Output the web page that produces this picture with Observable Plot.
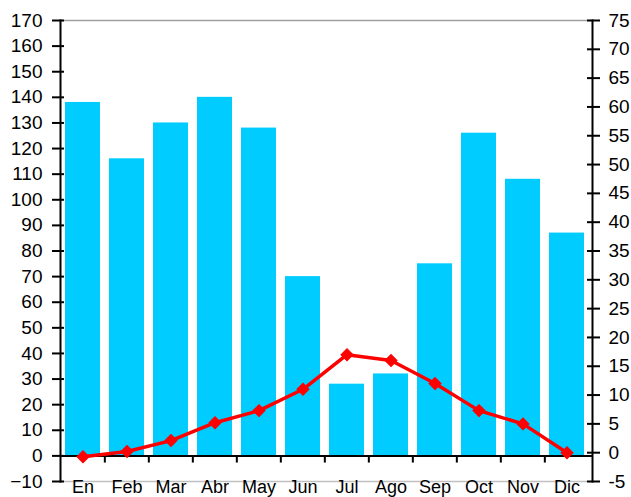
<!DOCTYPE html>
<html>
<head>
<meta charset="utf-8">
<script src="https://cdn.jsdelivr.net/npm/d3@7"></script>
<script src="https://cdn.jsdelivr.net/npm/@observablehq/plot@0.6"></script>
<style>
  html, body { margin: 0; padding: 0; background: #fff; }
</style>
</head>
<body>
<div id="chart"></div>
<script>
const months = ["En","Feb","Mar","Abr","May","Jun","Jul","Ago","Sep","Oct","Nov","Dic"];
const precip = [138, 116, 130, 140, 128, 70, 28, 32, 75, 126, 108, 87];
const temp = [-0.7, 0.2, 2.1, 5.2, 7.3, 11, 17, 16, 12, 7.3, 5, 0];
const precipTicks = [-10, 0, 10, 20, 30, 40, 50, 60, 70, 80, 90, 100, 110, 120, 130, 140, 150, 160, 170];
const tempTicks = [-5, 0, 5, 10, 15, 20, 25, 30, 35, 40, 45, 50, 55, 60, 65, 70, 75];

const W = 631, H = 497;
const mL = 60, mR = 39, mT = 20, mB = 16;
const precipDomain = [-10, 170];
const tempDomain = [-5, 75];
// map temperature (right axis) onto precipitation (left axis) scale
const toLeft = t => precipDomain[0] + (t - tempDomain[0]) * (precipDomain[1] - precipDomain[0]) / (tempDomain[1] - tempDomain[0]);
const fromLeft = v => tempDomain[0] + (v - precipDomain[0]) * (tempDomain[1] - tempDomain[0]) / (precipDomain[1] - precipDomain[0]);

const step = (W - mL - mR) / months.length;
const rows = months.map((m, i) => ({month: m, p: precip[i], t: temp[i]}));

const chart = Plot.plot({
  width: W,
  height: H,
  marginLeft: mL,
  marginRight: mR,
  marginTop: mT,
  marginBottom: mB,
  style: {fontFamily: "'Liberation Sans', Arial, sans-serif", fontSize: "19px", color: "#000", background: "#fff", overflow: "visible"},
  x: {domain: months, paddingInner: 0.21, paddingOuter: 0.1, align: 0.35, label: null},
  y: {domain: precipDomain, label: null},
  marks: [
    Plot.barY(rows, {x: "month", y: "p", fill: "#00CCFF"}),
    Plot.frame({anchor: "top", stroke: "#a0a0a0", strokeWidth: 1.5}),
    Plot.frame({anchor: "bottom", stroke: "#c0c0c0", strokeWidth: 1.5}),
    Plot.ruleY([0], {stroke: "#000", strokeWidth: 2}),
    Plot.ruleX(months.slice(1), {x: d => d, y1: 0, y2: -2.8, dx: -step / 2, stroke: "#000", strokeWidth: 2}),
    // left axis
    Plot.axisY({anchor: "left", ticks: precipTicks, tickSize: 0, tickPadding: 18, label: null}),
    Plot.axisY({anchor: "left", ticks: precipTicks, tickSize: 12, dx: 4, text: null, strokeWidth: 2, label: null}),
    // right axis
    Plot.axisY({anchor: "right", ticks: tempTicks.map(toLeft), tickFormat: v => String(Math.round(fromLeft(v))), tickSize: 0, tickPadding: 16, label: null}),
    Plot.axisY({anchor: "right", ticks: tempTicks.map(toLeft), tickSize: 13, dx: -6, text: null, strokeWidth: 2, label: null}),
    Plot.frame({anchor: "left", stroke: "#000", strokeWidth: 2}),
    Plot.frame({anchor: "right", stroke: "#000", strokeWidth: 2}),
    Plot.axisX({anchor: "bottom", tickSize: 0, tickPadding: -1, fontSize: 18, label: null}),
    Plot.line(rows, {x: "month", y: d => toLeft(d.t), stroke: "#FF0000", strokeWidth: 3.5}),
    Plot.dot(rows, {x: "month", y: d => toLeft(d.t), symbol: "square", rotate: 45, r: 4.8, fill: "#FF0000", stroke: "#FF0000", strokeWidth: 1})
  ]
});
document.getElementById("chart").appendChild(chart);
</script>
</body>
</html>
